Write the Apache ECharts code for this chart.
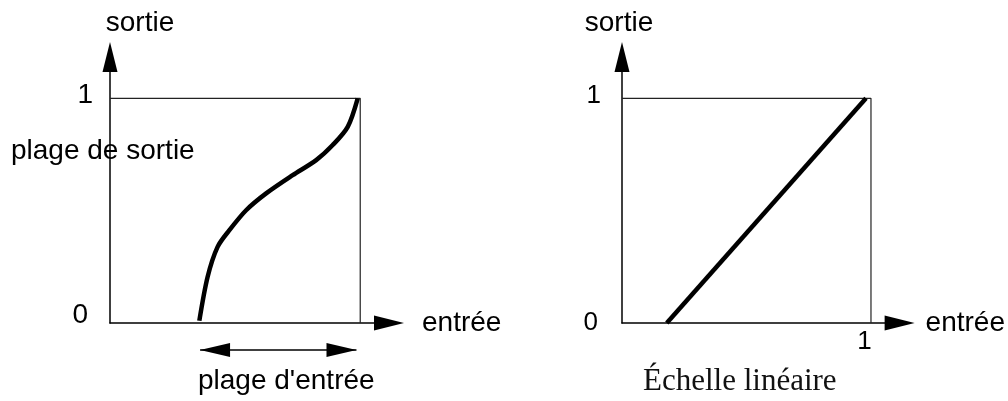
<!DOCTYPE html>
<html lang="fr">
<head>
<meta charset="UTF-8">
<title>Plage d'entrée / Échelle linéaire</title>
<style>
  html, body { margin: 0; padding: 0; background: #fff; }
  #chart { width: 1008px; height: 401px; }
</style>
</head>
<body>
<div id="chart"></div>
<script src="https://cdn.jsdelivr.net/npm/echarts@6/dist/echarts.min.js"></script>
<script>
    // courbe de gauche : entrée -> sortie
    const curveX = [0.357, 0.39, 0.43, 0.477, 0.544, 0.624, 0.73, 0.824, 0.89, 0.95, 0.99];
    const curveY = [0.01, 0.205, 0.339, 0.413, 0.502, 0.577, 0.658, 0.725, 0.792, 0.873, 1.0];
    // échelle linéaire (droite)
    const linearX = [0.18, 0.98];
    const linearY = [0, 1];
    // cadre unité
    const boxX = [0, 1, 1];
    const boxY = [1, 1, 0];
    // plage d'entrée (double flèche sous l'axe)
    const inputRange = [0.36, 0.985];
    const arrowLevel = 0.5;

    const SANS = '"Liberation Sans", Arial, sans-serif';
    const SERIF = '"Liberation Serif", "Times New Roman", serif';
    const X_MAX = 1.115;
    const Y_MAX = 1.184;

    const chart = echarts.init(document.getElementById('chart'));

    const zip = (xs, ys) => xs.map((x, i) => [x, ys[i]]);

    const axisLine = {
        show: true,
        onZero: false,
        symbol: ['none', 'triangle'],
        symbolSize: [15, 30],
        lineStyle: {color: '#000', width: 1.5}
    };

    function yAxis(gridIndex, namePadding, margin, rich) {
        return {
            type: 'value', gridIndex: gridIndex,
            min: 0, max: Y_MAX, interval: 1,
            name: 'sortie', nameLocation: 'end', nameGap: 20,
            nameMoveOverlap: false,
            nameTextStyle: {fontSize: 28, fontFamily: SANS, color: '#000', padding: namePadding},
            axisLine: axisLine,
            axisTick: {show: false},
            splitLine: {show: false},
            axisLabel: {
                margin: margin,
                fontSize: 28, fontFamily: SANS, color: '#000',
                formatter: v => v === 1 ? '{one|1}' : (v === 0 ? '{zero|0}' : ''),
                rich: rich
            }
        };
    }

    function xAxis(gridIndex, nameGap, label) {
        return {
            type: 'value', gridIndex: gridIndex,
            min: 0, max: X_MAX, interval: 1,
            name: 'entrée', nameLocation: 'end', nameGap: nameGap,
            nameTextStyle: {fontSize: 28, fontFamily: SANS, color: '#000', verticalAlign: 'middle'},
            axisLine: axisLine,
            axisTick: {show: false},
            splitLine: {show: false},
            axisLabel: label
        };
    }

    const thin = {color: '#222', width: 1.2};
    const thick = {color: '#000', width: 4.5};

    chart.setOption({
        animation: false,
        title: [
            {text: 'plage de sortie', left: 11, top: 137, padding: 0,
             textStyle: {fontSize: 28, fontWeight: 'normal', fontFamily: SANS, color: '#000'}},
            {text: "plage d'entrée", left: 198, top: 367, padding: 0,
             textStyle: {fontSize: 28, fontWeight: 'normal', fontFamily: SANS, color: '#000'}},
            {text: 'Échelle linéaire', left: 643, top: 366, padding: 0,
             textStyle: {fontSize: 31, fontWeight: 'normal', fontFamily: SERIF, color: '#111'}}
        ],
        grid: [
            {left: 110, top: 57, width: 279, height: 266},
            {left: 622, top: 57, width: 279, height: 266},
            {left: 110, top: 340, width: 279, height: 20}
        ],
        xAxis: [
            xAxis(0, 33, {show: false}),
            xAxis(1, 26, {
                margin: 6,
                formatter: v => v === 1 ? '{one|1}' : '',
                rich: {one: {fontSize: 26, fontFamily: SANS, color: '#000', padding: [0, 13, 0, 0]}}
            }),
            {type: 'value', gridIndex: 2, min: 0, max: X_MAX, show: false}
        ],
        yAxis: [
            yAxis(0, [0, 0, 0, 60], 17, {
                one: {fontSize: 28, fontFamily: SANS, color: '#000', padding: [0, 0, 7, 0]},
                zero: {fontSize: 28, fontFamily: SANS, color: '#000', padding: [0, 5, 16, 0]}
            }),
            yAxis(1, [0, 6, 0, 0], 21, {
                one: {fontSize: 26, fontFamily: SANS, color: '#000', padding: [0, 0, 6, 0]},
                zero: {fontSize: 26, fontFamily: SANS, color: '#000', padding: [0, 3, 0, 0]}
            }),
            {type: 'value', gridIndex: 2, min: 0, max: 1, show: false}
        ],
        series: [
            {type: 'line', xAxisIndex: 0, yAxisIndex: 0, data: zip(boxX, boxY),
             showSymbol: false, symbol: 'none', lineStyle: thin, silent: true},
            {type: 'line', xAxisIndex: 0, yAxisIndex: 0, data: zip(curveX, curveY),
             smooth: 0.3, showSymbol: false, symbol: 'none', lineStyle: thick, silent: true},
            {type: 'line', xAxisIndex: 1, yAxisIndex: 1, data: zip(boxX, boxY),
             showSymbol: false, symbol: 'none', lineStyle: thin, silent: true},
            {type: 'line', xAxisIndex: 1, yAxisIndex: 1, data: zip(linearX, linearY),
             showSymbol: false, symbol: 'none', lineStyle: thick, silent: true},
            {type: 'line', xAxisIndex: 2, yAxisIndex: 2, data: [], silent: true,
             markLine: {
                 silent: true,
                 symbol: ['triangle', 'triangle'],
                 symbolSize: [14, 30],
                 // pointe de flèche posée sur l'extrémité de la plage
                 symbolOffset: [[0, 15], [0, 15]],
                 lineStyle: {color: '#000', width: 1.5, type: 'solid'},
                 label: {show: false},
                 emphasis: {disabled: true},
                 data: [[{coord: [inputRange[0], arrowLevel]}, {coord: [inputRange[1], arrowLevel]}]]
             }}
        ]
    });
</script>
</body>
</html>
